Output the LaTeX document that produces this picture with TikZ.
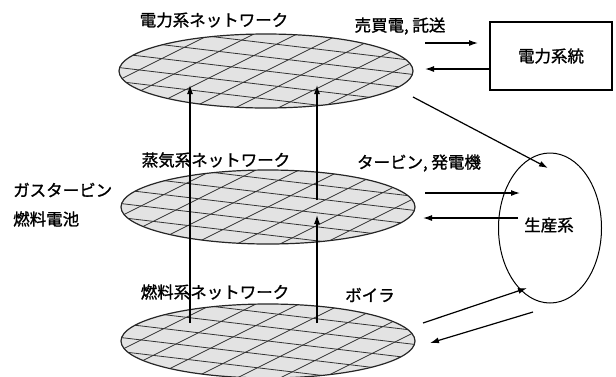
\documentclass[tikz,border=0pt]{standalone}
\usepackage{fontspec}
\newfontfamily\jp{Noto Sans CJK JP}[FakeBold=1.2]
\usetikzlibrary{shapes.geometric,arrows.meta}
\begin{document}
\begin{tikzpicture}[x=1pt,y=-1pt,
  lab/.style={font=\jp\fontsize{16.5}{16.5}\selectfont, inner sep=0pt},
  plate/.style={ellipse, draw=black!85, line width=1.2pt, fill=gray!22,
    minimum width=294pt, minimum height=74pt, inner sep=0pt,
    path picture={
      \begin{scope}[shift={(path picture bounding box.center)}]
        \foreach \c in {-84,-70,...,84}
          \draw[black!80, line width=0.8pt] (-160,{\c-19}) -- (160,{\c+19});
        \foreach \k in {-258,-215,...,258}
          \draw[black!80, line width=0.8pt] ({\k-80},40) -- ({\k+80},-40);
      \end{scope}}},
  arr/.style={-{Latex[length=9pt,width=6pt]}, line width=1.2pt}]
\useasboundingbox (0,0) rectangle (616,376);

\node[plate] (p1) at (266,71) {};
\node[plate] (p2) at (268,207) {};
\node[plate] (p3) at (268,341) {};

\node[lab] (t1) at (214,20) {電力系ネットワーク};
\node[lab] (t2) at (400,26) {売買電, 託送};
\node[lab, draw, line width=1.1pt, minimum width=122pt, minimum height=68pt] (grid) at (551,56) {電力系統};
\node[lab] (t3) at (216,160) {蒸気系ネットワーク};
\node[lab, anchor=west] (gt) at (13,190) {ガスタービン};
\node[lab, anchor=west] (fc) at (13,219) {燃料電池};
\node[lab] (tg) at (419,163) {タービン, 発電機};
\node[ellipse, draw, line width=1pt, minimum width=103pt, minimum height=150pt, inner sep=0pt] (prod) at (550,228) {};
\node[lab] (pl) at (549,225) {生産系};
\node[lab] (boi) at (370,295) {ボイラ};
\node[lab] (t4) at (215,292) {燃料系ネットワーク};

% top arrows
\coordinate (a1s) at (425,43);
\coordinate (a1e) at (478,43);
\draw[arr] (a1s) -- (a1e);
\coordinate (a2e) at (425,69);
\draw[arr] (grid.west |- a2e) -- (a2e);
\coordinate (d1s) at (413,97);
\coordinate (d1e) at (548,168);
\draw[arr] (d1s) -- (d1e);
% middle arrows
\coordinate (m1s) at (425,193);
\coordinate (m1e) at (520,193);
\draw[arr] (m1s) -- (m1e);
\coordinate (m2s) at (518,218);
\coordinate (m2e) at (423,218);
\draw[arr] (m2s) -- (m2e);
% bottom arrows
\coordinate (b1s) at (423,323);
\coordinate (b1e) at (527,288);
\draw[arr] (b1s) -- (b1e);
\coordinate (b2s) at (533,312);
\coordinate (b2e) at (430,343);
\draw[arr] (b2s) -- (b2e);
% vertical arrows
\coordinate (v1s) at (190,323);
\coordinate (v1e) at (190,85);
\draw[arr] (v1s) -- (v1e);
\coordinate (v2s) at (317,323);
\coordinate (v2e) at (317,215);
\draw[arr] (v2s) -- (v2e);
\coordinate (v3s) at (317,200);
\coordinate (v3e) at (317,85);
\draw[arr] (v3s) -- (v3e);
\end{tikzpicture}
\end{document}
